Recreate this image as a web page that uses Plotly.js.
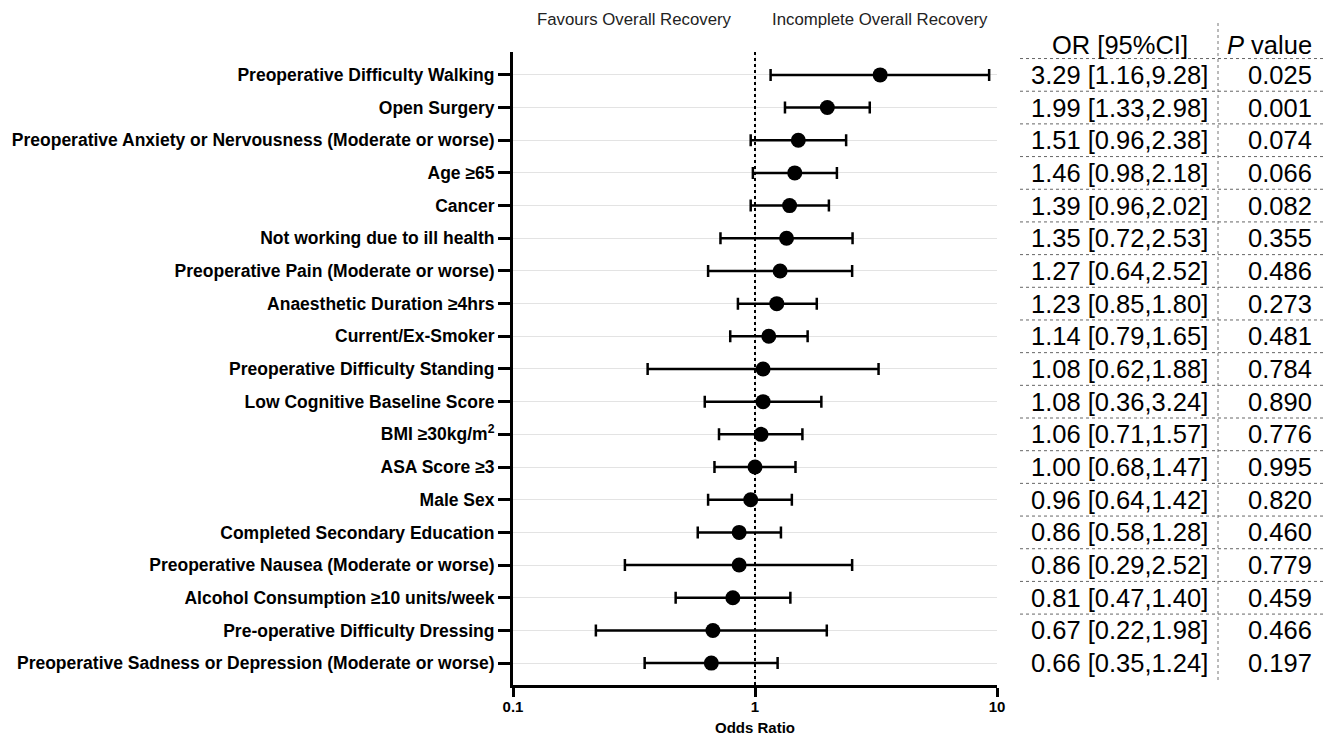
<!DOCTYPE html>
<html>
<head>
<meta charset="utf-8">
<script src="https://cdn.plot.ly/plotly-3.0.1.min.js"></script>
<style>html,body{margin:0;padding:0;background:#fff;}#chart{width:1329px;height:736px;}</style>
</head>
<body>
<div id="chart"></div>
<script>
// ---- data ----
var labels = [
  "Preoperative Difficulty Walking",
  "Open Surgery",
  "Preoperative Anxiety or Nervousness (Moderate or worse)",
  "Age \u226565",
  "Cancer",
  "Not working due to ill health",
  "Preoperative Pain (Moderate or worse)",
  "Anaesthetic Duration \u22654hrs",
  "Current/Ex-Smoker",
  "Preoperative Difficulty Standing",
  "Low Cognitive Baseline Score",
  "BMI \u226530kg/m<sup>2</sup>",
  "ASA Score \u22653",
  "Male Sex",
  "Completed Secondary Education",
  "Preoperative Nausea (Moderate or worse)",
  "Alcohol Consumption \u226510 units/week",
  "Pre-operative Difficulty Dressing",
  "Preoperative Sadness or Depression (Moderate or worse)"
];
// plotted values (as drawn)
var orValues = [3.29,1.99,1.51,1.46,1.39,1.35,1.27,1.23,1.14,1.08,1.08,1.06,1.00,0.96,0.86,0.86,0.81,0.67,0.66];
var ciLow    = [1.16,1.33,0.96,0.98,0.96,0.72,0.64,0.85,0.79,0.36,0.62,0.71,0.68,0.64,0.58,0.29,0.47,0.22,0.35];
var ciHigh   = [9.28,2.98,2.38,2.18,2.02,2.53,2.52,1.80,1.65,3.24,1.88,1.57,1.47,1.42,1.28,2.52,1.40,1.98,1.24];
// table text
var orText = ["3.29 [1.16,9.28]","1.99 [1.33,2.98]","1.51 [0.96,2.38]","1.46 [0.98,2.18]","1.39 [0.96,2.02]",
  "1.35 [0.72,2.53]","1.27 [0.64,2.52]","1.23 [0.85,1.80]","1.14 [0.79,1.65]","1.08 [0.62,1.88]",
  "1.08 [0.36,3.24]","1.06 [0.71,1.57]","1.00 [0.68,1.47]","0.96 [0.64,1.42]","0.86 [0.58,1.28]",
  "0.86 [0.29,2.52]","0.81 [0.47,1.40]","0.67 [0.22,1.98]","0.66 [0.35,1.24]"];
var pText = ["0.025","0.001","0.074","0.066","0.082","0.355","0.486","0.273","0.481","0.784",
  "0.890","0.776","0.995","0.820","0.460","0.779","0.459","0.466","0.197"];
var xTicks = [0.1, 1, 10];
var xTickText = ["0.1", "1", "10"];

// ---- build ----
var idx = labels.map(function(_, i){ return i; });
var FONT = "Liberation Sans, Arial, Helvetica, sans-serif";

var trace = {
  type: "scatter", mode: "markers",
  x: orValues, y: idx,
  marker: {color: "#000", size: 15},
  error_x: {
    type: "data", symmetric: false,
    array: orValues.map(function(v,i){ return ciHigh[i]-v; }),
    arrayminus: orValues.map(function(v,i){ return v-ciLow[i]; }),
    color: "#000", thickness: 2.5, width: 6
  },
  hoverinfo: "skip", cliponaxis: false
};

var L = 513, R = 997, T = 52, B = 685, H = 736;
function px2paper(p){ return (p - L) / (R - L); }
function py2paper(p){ return (B - p) / (B - T); }

var TF = 25.5;
var annotations = [
  {xref:"paper", yref:"paper", x:px2paper(634), y:py2paper(19), text:"Favours Overall Recovery",
   showarrow:false, font:{family:FONT, size:16.8, color:"#222"}, xanchor:"center", yanchor:"middle"},
  {xref:"paper", yref:"paper", x:px2paper(880), y:py2paper(19), text:"Incomplete Overall Recovery",
   showarrow:false, font:{family:FONT, size:16.8, color:"#222"}, xanchor:"center", yanchor:"middle"},
  {xref:"paper", yref:"paper", x:px2paper(1120), y:py2paper(45), text:"OR [95%CI]", showarrow:false,
   font:{family:FONT, size:TF, color:"#000"}, xanchor:"center", yanchor:"middle"},
  {xref:"paper", yref:"paper", x:px2paper(1314), y:py2paper(45), text:"<i>P</i> value", showarrow:false,
   font:{family:FONT, size:TF, color:"#000"}, xanchor:"right", yanchor:"middle"}
];
idx.forEach(function(i){
  annotations.push({xref:"paper", yref:"y", x:px2paper(1119), y:i, text:orText[i], showarrow:false,
    font:{family:FONT, size:TF, color:"#000"}, xanchor:"center", yanchor:"middle"});
  annotations.push({xref:"paper", yref:"y", x:px2paper(1314), y:i, text:pText[i], showarrow:false,
    font:{family:FONT, size:TF, color:"#000"}, xanchor:"right", yanchor:"middle"});
});

var shapes = [
  {type:"line", xref:"x", yref:"paper", x0:1, x1:1, y0:0, y1:1,
   line:{color:"#000", width:2, dash:"dot"}},
  {type:"line", xref:"paper", yref:"paper", x0:px2paper(1218), x1:px2paper(1218), y0:py2paper(680), y1:py2paper(22),
   line:{color:"#777", width:1, dash:"dot"}}
];
for (var k = -1; k < labels.length - 2; k++) {
  shapes.push({type:"line", xref:"paper", yref:"y", x0:px2paper(1020), x1:px2paper(1326), y0:k+0.5, y1:k+0.5,
    line:{color:"#666", width:1, dash:"dot"}});
}

var layout = {
  width: 1329, height: H,
  margin: {l: L, r: 1329 - R, t: T, b: H - B, pad: 0},
  paper_bgcolor: "#fff", plot_bgcolor: "#fff",
  showlegend: false,
  font: {family: FONT, color: "#000"},
  xaxis: {
    type: "log", range: [-1, 1],
    tickvals: xTicks, ticktext: xTickText.map(function(s){ return "<b>" + s + "</b>"; }),
    ticks: "outside", ticklen: 9, tickwidth: 3, tickcolor: "#000",
    ticklabelstandoff: -3,
    showline: true, linewidth: 3, linecolor: "#000",
    showgrid: true, gridcolor: "#e6e6e6", gridwidth: 1,
    zeroline: false,
    tickfont: {family: FONT, size: 15, color: "#000"},
    title: {text: "<b>Odds Ratio</b>", font: {family: FONT, size: 15, color: "#000"}, standoff: 10}
  },
  yaxis: {
    range: [18.67, -0.70],
    tickvals: idx, ticktext: labels.map(function(s){ return "<b>" + s + "</b>"; }),
    ticks: "outside", ticklen: 12, tickwidth: 3, tickcolor: "#000",
    showline: true, linewidth: 3, linecolor: "#000",
    showgrid: true, gridcolor: "#e3e3e3", gridwidth: 1,
    zeroline: false,
    tickfont: {family: FONT, size: 17.5, color: "#000"}
  },
  annotations: annotations,
  shapes: shapes
};

Plotly.newPlot("chart", [trace], layout, {displayModeBar: false, staticPlot: true});
</script>
</body>
</html>
